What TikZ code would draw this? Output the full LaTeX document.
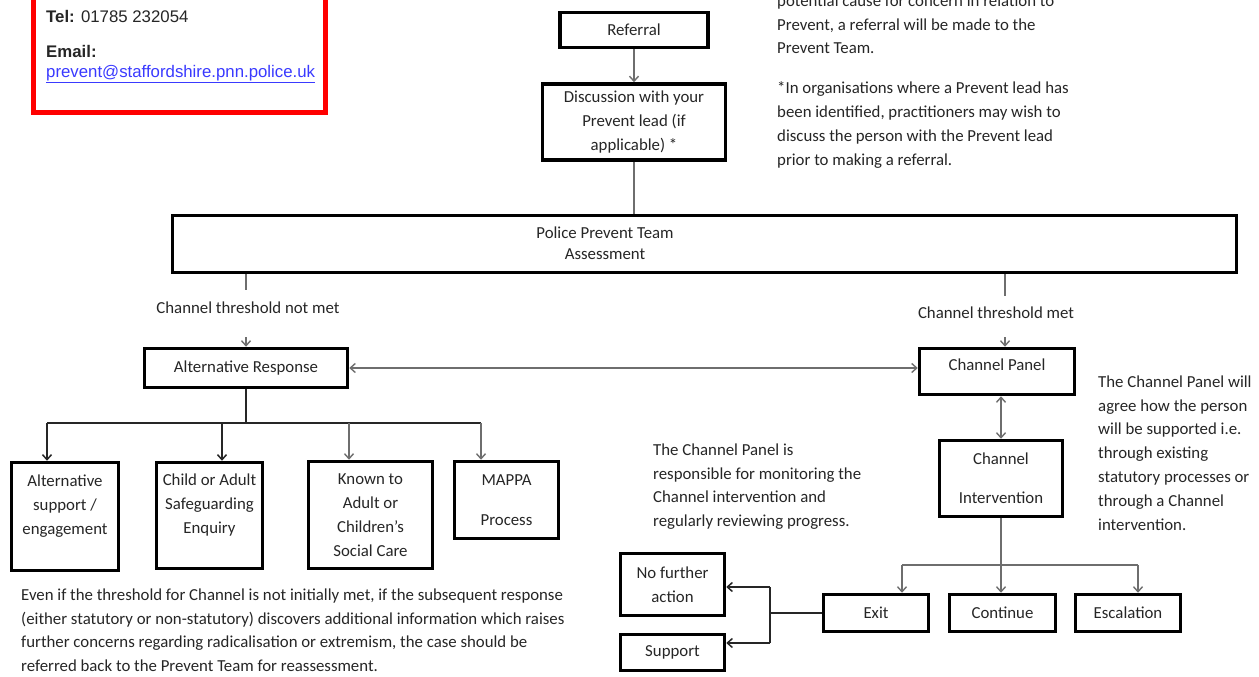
\documentclass[tikz,border=0pt]{standalone}
\usepackage{fontspec}
\setmainfont{Carlito}
\newfontfamily\arialfont{Liberation Sans}
\usetikzlibrary{arrows.meta}
\definecolor{txt}{HTML}{262626}
\definecolor{lgray}{HTML}{6E6E6E}
\definecolor{redbox}{HTML}{FF0000}
\definecolor{linkblue}{HTML}{3A3AFF}
\begin{document}
\begin{tikzpicture}[x=1pt,y=-1pt,
  every node/.style={font=\fontsize{16.8}{23.8}\selectfont, text=txt},
  box/.style={draw=black, line width=3.5pt, inner sep=0pt, align=center},
  conn/.style={line width=1.5pt, draw=black!85},
  gconn/.style={line width=1.4pt, draw=lgray},
  tip/.style={-{Straight Barb[length=5pt,width=9pt]}},
  tips/.style={{Straight Barb[length=5pt,width=9pt]}-{Straight Barb[length=5pt,width=9pt]}},
  para/.style={anchor=north west, align=left, inner sep=0pt},
  contact/.style={font=\arialfont\fontsize{16.8}{20}\selectfont, anchor=base west, inner sep=0pt}
]
\useasboundingbox (0,0) rectangle (1259,677);
\clip (0,0) rectangle (1259,677);
\fill[white] (0,0) rectangle (1259,677);

% contact box
\node[draw=redbox, line width=5pt, minimum width=292pt, minimum height=135pt, inner sep=0pt] (cbox) at (179.5,45) {};
\node[contact] (tel) at (46,23) {\textbf{Tel:} 01785 232054};
\node[contact] (em) at (46,58) {\textbf{Email:}};
\node[contact, text=linkblue] (emaddr) at (46,77.5) {\underline{prevent@staffordshire.pnn.police.uk}};

% top flow
\node[box, minimum width=148pt, minimum height=35pt] (ref) at (634,30) {Referral};
\node[box, minimum width=183pt, minimum height=76pt] (disc) at (634,122) {Discussion with your\\Prevent lead (if\\applicable) *};
\node[box, minimum width=1064pt, minimum height=57pt] (pp) at (704.5,244) {};
\node[align=center, inner sep=0pt] (pptext) at (605,243) {Police Prevent Team\\[-3pt]Assessment};

\draw[gconn,tip] (ref.south) -- (ref.south |- disc.north);
\draw[gconn] (disc.south) -- (disc.south |- pp.north);

% text top right
\node[para] (note1) at (777,-5.5) {potential cause for concern in relation to\\Prevent, a referral will be made to the\\Prevent Team.\\[16pt]*In organisations where a Prevent lead has\\been identified, practitioners may wish to\\discuss the person with the Prevent lead\\prior to making a referral.};

% thresholds
\coordinate (nm1) at (246,290);
\coordinate (nm2) at (246,337);
\node[inner sep=0pt] (lnm) at (248,308) {Channel threshold not met};
\coordinate (m1) at (1005,296);
\coordinate (m2) at (1005,337);
\node[inner sep=0pt] (lm) at (996,313) {Channel threshold met};

\node[box, minimum width=203pt, minimum height=39pt] (alt) at (246,368) {Alternative Response};
\node[box, minimum width=155pt, minimum height=46pt, text height=12pt, text depth=15pt] (cp) at (997,371.5) {Channel Panel};
\node[box, minimum width=123pt, minimum height=76pt] (ci) at (1001,478.5) {Channel\\[15pt]Intervention};

\draw[gconn] (nm1 |- pp.south) -- (nm1);
\draw[gconn,tip] (nm2) -- (nm2 |- alt.north);
\draw[gconn] (m1 |- pp.south) -- (m1);
\draw[gconn,tip] (m2) -- (m2 |- cp.north);
\draw[gconn,tips] (alt.east) -- (alt.east -| cp.west);
\draw[gconn,tips] (cp.south -| ci.north) -- (ci.north);

% right note
\node[para] (note2) at (1098,375.5) {The Channel Panel will\\agree how the person\\will be supported i.e.\\through existing\\statutory processes or\\through a Channel\\intervention.};

% alternative response options
\node[box, minimum width=107pt, minimum height=108pt] (b1) at (65,516.5) {Alternative\\support /\\engagement\\~};
\node[box, minimum width=106pt, minimum height=106pt] (b2) at (209.5,515.5) {Child or Adult\\Safeguarding\\Enquiry\\~};
\node[box, minimum width=124pt, minimum height=107pt] (b3) at (370.5,515) {Known to\\Adult or\\Children’s\\Social Care};
\node[box, minimum width=104pt, minimum height=77pt] (b4) at (506.5,500) {MAPPA\\[16pt]Process};

\coordinate (t0) at (246,423);
\coordinate (t1) at (47,423);
\coordinate (t2) at (222,423);
\coordinate (t3) at (349,423);
\coordinate (t4) at (481,423);
\draw[conn] (alt.south) -- (t0);
\draw[conn] (t1) -- (t4);
\draw[conn,tip] (t1) -- (t1 |- b1.north);
\draw[conn,tip] (t2) -- (t2 |- b2.north);
\draw[gconn,tip] (t3) -- (t3 |- b3.north);
\draw[gconn,tip] (t4) -- (t4 |- b4.north);

\node[para] (note3) at (21,588.5) {Even if the threshold for Channel is not initially met, if the subsequent response\\(either statutory or non-statutory) discovers additional information which raises\\further concerns regarding radicalisation or extremism, the case should be\\referred back to the Prevent Team for reassessment.};

\node[para] (note4) at (653,443.5) {The Channel Panel is\\responsible for monitoring the\\Channel intervention and\\regularly reviewing progress.};

% channel outcomes
\node[box, minimum width=104pt, minimum height=62pt] (nfa) at (672.5,584.5) {No further\\action};
\node[box, minimum width=104pt, minimum height=36pt] (sup) at (672.5,652.5) {Support};
\node[box, minimum width=105pt, minimum height=37pt] (exit) at (876,613) {Exit};
\node[box, minimum width=106pt, minimum height=37pt] (cont) at (1002.5,613) {Continue};
\node[box, minimum width=105pt, minimum height=37pt] (esc) at (1128,613) {Escalation};

\coordinate (c1) at (902,565);
\coordinate (c2) at (1138,565);
\draw[gconn,tip] (ci.south) -- (ci.south |- cont.north);
\draw[gconn] (c1) -- (c2);
\draw[gconn,tip] (c1) -- (c1 |- exit.north);
\draw[gconn,tip] (c2) -- (c2 |- esc.north);

\coordinate (e0) at (770,613);
\coordinate (e1) at (770,587);
\coordinate (e2) at (770,643);
\draw[conn] (exit.west) -- (e0);
\draw[conn] (e1) -- (e2);
\draw[conn,tip] (e1) -- (e1 -| nfa.east);
\draw[conn,tip] (e2) -- (e2 -| sup.east);
\end{tikzpicture}
\end{document}
